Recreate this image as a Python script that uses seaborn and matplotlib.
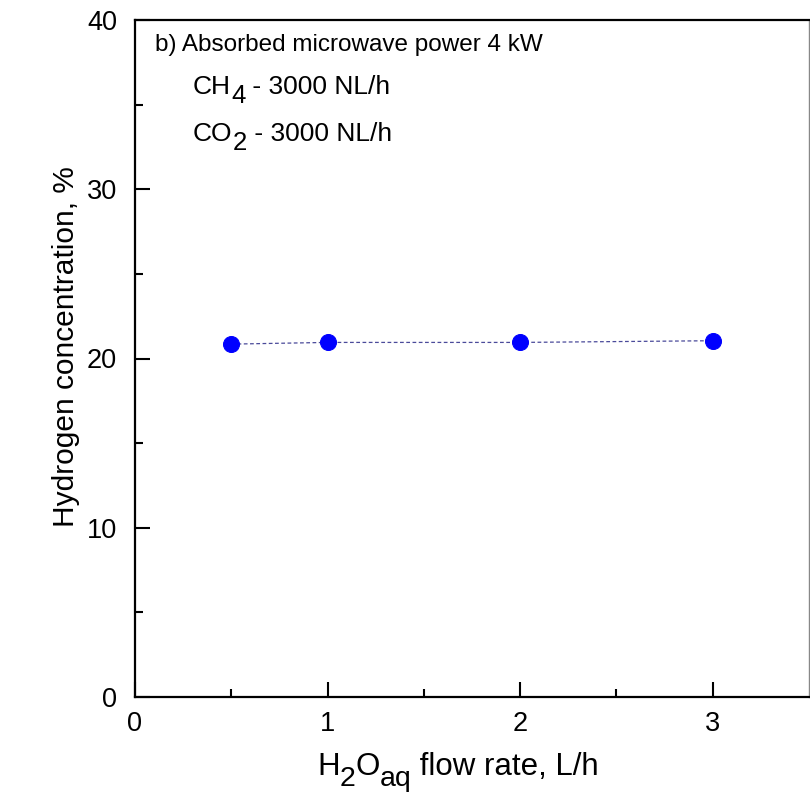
import matplotlib
matplotlib.use("Agg")
import matplotlib.pyplot as plt
import seaborn as sns
import pandas as pd
from matplotlib.ticker import FixedLocator

flow_rate = [0.5, 1, 2, 3]
h2_conc = [20.85, 20.95, 20.95, 21.05]
x_ticks = [0, 1, 2, 3]
y_ticks = [0, 10, 20, 30, 40]

sns.set_style("ticks")
plt.rcParams['font.family'] = ['Liberation Sans', 'DejaVu Sans']
plt.rcParams['text.color'] = 'black'
plt.rcParams['xtick.color'] = 'black'
plt.rcParams['ytick.color'] = 'black'

df = pd.DataFrame({"x": flow_rate, "y": h2_conc})

W, H = 810, 795
fig = plt.figure(figsize=(W / 100, H / 100), dpi=100)
ax = fig.add_axes([135 / W, 1 - 697 / H, (809 - 135) / W, (697 - 20) / H])

sns.lineplot(data=df, x="x", y="y", ax=ax, color="#4a4a9a", linestyle=(0, (3, 2)),
             linewidth=0.9, marker="o", markersize=11.5, markerfacecolor="#0000ff",
             markeredgecolor="#0000ff")

ax.set_xlim(0, 3.5)
ax.set_ylim(0, 40)
ax.xaxis.set_major_locator(FixedLocator(x_ticks))
ax.xaxis.set_minor_locator(FixedLocator([0.5, 1.5, 2.5]))
ax.yaxis.set_major_locator(FixedLocator(y_ticks))
ax.yaxis.set_minor_locator(FixedLocator([5, 15, 25, 35]))
ax.tick_params(which='major', direction='in', length=11, width=1.5, labelsize=19.5)
ax.tick_params(which='minor', direction='in', length=6, width=1.5)
ax.tick_params(axis='x', which='major', pad=10)
ax.tick_params(axis='y', which='major', pad=13)
ax.tick_params(axis='y', which='both', right=False)
ax.tick_params(axis='x', which='both', top=False)

for s in ['left', 'bottom', 'top']:
    ax.spines[s].set_linewidth(1.6)
    ax.spines[s].set_color('black')
ax.spines['right'].set_linewidth(1.0)
ax.spines['right'].set_color('#888888')
ax.set_xlabel("")
ax.set_ylabel("")


def chain(x_px, y_px, pieces):
    """Place text pieces one after another; pieces: (string, fontsize, dy in points)."""
    s0, fs0, dy0 = pieces[0]
    first = fig.text(x_px / W, 1 - y_px / H, s0, fontsize=fs0, ha='left', va='bottom')
    prev = first
    for s, fs, dy in pieces[1:]:
        prev = ax.annotate(s, xy=(1, 0), xycoords=(prev, first), xytext=(0, dy),
                           textcoords='offset points', fontsize=fs, ha='left', va='bottom',
                           annotation_clip=False)
    return first


# annotation block
chain(155, 56, [("b) Absorbed microwave power 4 kW", 17.5, 0)])
chain(193, 99, [("CH", 19, 0), ("4", 18.5, -6.5), (" - 3000 NL/h", 19, 0)])
chain(193, 146, [("CO", 19, 0), ("2", 18.5, -6.5), (" - 3000 NL/h", 19, 0)])

# x label
chain(317, 782, [("H", 22.5, 0), ("2", 20.5, -7.5), ("O", 22.5, 0),
                 ("aq", 20.5, -7.5), (" flow rate, L/h", 22.5, 0)])

# y label
fig.text(66 / W, 1 - 347 / H, "Hydrogen concentration, %", fontsize=21.5,
         rotation=90, ha='center', va='center')

fig.savefig("out.png", dpi=100)
